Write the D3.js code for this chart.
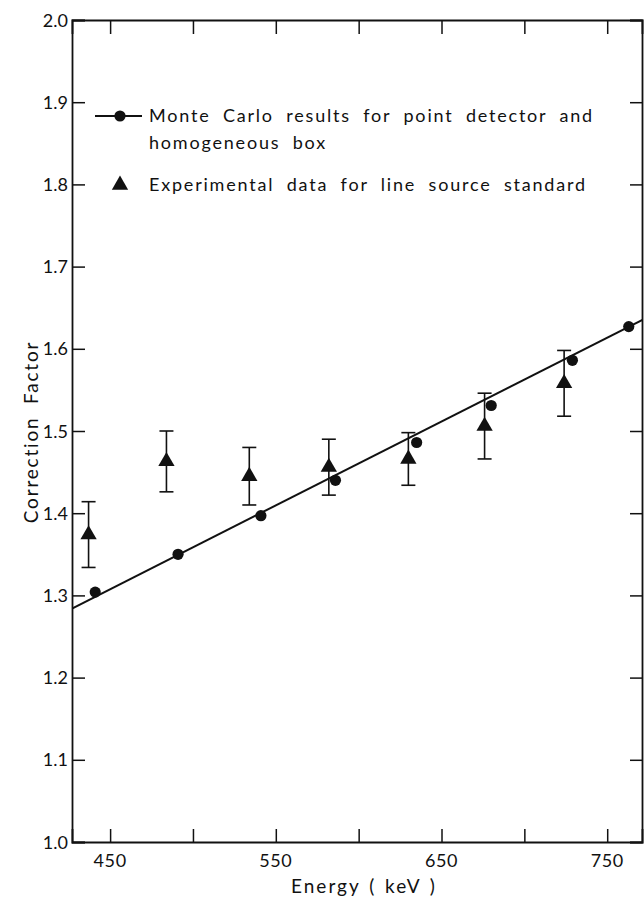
<!DOCTYPE html>
<html>
<head>
<meta charset="utf-8">
<script src="https://cdn.jsdelivr.net/npm/d3@7"></script>
<style>
  html, body { margin: 0; padding: 0; background: #fff; }
  svg text { font-family: Lato, "DejaVu Sans", sans-serif; fill: #111; }
</style>
</head>
<body>
<svg id="chart" width="644" height="901"></svg>
<script>
// Monte Carlo correction factors (point detector, homogeneous box)
const mcEnergy = [441, 491, 541, 586, 635, 680, 729, 763];
const mcFactor = [1.304, 1.350, 1.397, 1.440, 1.486, 1.531, 1.586, 1.627];

// Experimental correction factors (line source standard) with their uncertainties
const expEnergy = [437, 484, 534, 582, 630, 676, 724];
const expFactor = [1.374, 1.463, 1.445, 1.456, 1.466, 1.506, 1.558];
const expError  = [0.040, 0.037, 0.035, 0.034, 0.032, 0.040, 0.040];

// Straight line through the Monte Carlo results
const fitEnergy = [427, 772];
const fitFactor = [1.284, 1.636];

// Axis ticks
const xTickValues = [450, 500, 550, 600, 650, 700, 750];
const xTickLabels = ["450", "", "550", "", "650", "", "750"];
const yTickValues = [1.0, 1.1, 1.2, 1.3, 1.4, 1.5, 1.6, 1.7, 1.8, 1.9, 2.0];
const yTickLabels = ["1.0", "1.1", "1.2", "1.3", "1.4", "1.5", "1.6", "1.7", "1.8", "1.9", "2.0"];

const legendLabels = [
  ["Monte Carlo results for point detector and", "homogeneous box"],
  ["Experimental data for line source standard"]
];

const svg = d3.select("#chart");
const frameL = 72, frameR = 642, frameT = 20, frameB = 842;

const x = d3.scaleLinear().domain([427, 771]).range([frameL, frameR]);
const y = d3.scaleLinear().domain([1.0, 2.0]).range([frameB, frameT]);

const ink = "#111";

// Frame with inward ticks on all four sides
const xAxisB = d3.axisBottom(x).tickValues(xTickValues).tickSize(-13).tickFormat("");
const xAxisT = d3.axisTop(x).tickValues(xTickValues).tickSize(-14).tickFormat("");
const yAxisL = d3.axisLeft(y).tickValues(yTickValues).tickSize(-13).tickFormat("");
const yAxisR = d3.axisRight(y).tickValues(yTickValues).tickSize(-12).tickFormat("");

function styleAxis(g) {
  g.selectAll("path.domain").attr("stroke", ink).attr("stroke-width", 1.8);
  g.selectAll(".tick line").attr("stroke", ink).attr("stroke-width", 1.5);
}
svg.append("g").attr("transform", `translate(0,${frameB})`).call(xAxisB).call(styleAxis);
svg.append("g").attr("transform", `translate(0,${frameT})`).call(xAxisT).call(styleAxis);
svg.append("g").attr("transform", `translate(${frameL},0)`).call(yAxisL).call(styleAxis);
svg.append("g").attr("transform", `translate(${frameR},0)`).call(yAxisR).call(styleAxis);

// Tick labels
svg.append("g").selectAll("text").data(xTickValues).join("text")
  .attr("x", d => x(d)).attr("y", frameB + 25)
  .attr("text-anchor", "middle").attr("font-size", 18)
  .attr("letter-spacing", 0.6)
  .text((d, i) => xTickLabels[i]);

svg.append("g").selectAll("text").data(yTickValues).join("text")
  .attr("x", frameL - 4).attr("y", d => y(d) + 6.5)
  .attr("text-anchor", "end").attr("font-size", 18)
  .text((d, i) => yTickLabels[i]);

// Axis titles
svg.append("text")
  .attr("x", 364).attr("y", 893)
  .attr("text-anchor", "middle").attr("font-size", 19)
  .attr("letter-spacing", 2).attr("word-spacing", 2)
  .text("Energy ( keV )");

svg.append("text")
  .attr("transform", `translate(38,432) rotate(-90)`)
  .attr("text-anchor", "middle").attr("font-size", 19)
  .attr("letter-spacing", 1.8).attr("word-spacing", 6)
  .text("Correction Factor");

// Plot contents are clipped to the frame
svg.append("clipPath").attr("id", "plot-clip")
  .append("rect").attr("x", frameL).attr("y", frameT)
  .attr("width", frameR - frameL).attr("height", frameB - frameT);
const plot = svg.append("g").attr("clip-path", "url(#plot-clip)");

// Fitted line
const line = d3.line().x(d => x(d[0])).y(d => y(d[1]));
plot.append("path")
  .datum(d3.zip(fitEnergy, fitFactor))
  .attr("d", line)
  .attr("fill", "none").attr("stroke", ink).attr("stroke-width", 2);

// Monte Carlo points
plot.append("g").selectAll("circle").data(d3.zip(mcEnergy, mcFactor)).join("circle")
  .attr("cx", d => x(d[0])).attr("cy", d => y(d[1])).attr("r", 5.6)
  .attr("fill", ink);

// Experimental points with error bars
const expData = expEnergy.map((e, i) => ({ e, v: expFactor[i], err: expError[i] }));
const capHalf = 7;
const eb = plot.append("g").attr("stroke", ink).attr("stroke-width", 1.6);
eb.selectAll("line.bar").data(expData).join("line").attr("class", "bar")
  .attr("x1", d => x(d.e)).attr("x2", d => x(d.e))
  .attr("y1", d => y(d.v + d.err)).attr("y2", d => y(d.v - d.err));
eb.selectAll("line.capTop").data(expData).join("line").attr("class", "capTop")
  .attr("x1", d => x(d.e) - capHalf).attr("x2", d => x(d.e) + capHalf)
  .attr("y1", d => y(d.v + d.err)).attr("y2", d => y(d.v + d.err));
eb.selectAll("line.capBot").data(expData).join("line").attr("class", "capBot")
  .attr("x1", d => x(d.e) - capHalf).attr("x2", d => x(d.e) + capHalf)
  .attr("y1", d => y(d.v - d.err)).attr("y2", d => y(d.v - d.err));

const tri = d3.symbol().type(d3.symbolTriangle).size(115);
plot.append("g").selectAll("path").data(expData).join("path")
  .attr("transform", d => `translate(${x(d.e)},${y(d.v)})`)
  .attr("d", tri).attr("fill", ink);

// Legend
const lg = svg.append("g");
const textX = 149;
lg.append("line").attr("x1", 95).attr("x2", 142).attr("y1", 116).attr("y2", 116)
  .attr("stroke", ink).attr("stroke-width", 2);
lg.append("circle").attr("cx", 120).attr("cy", 116).attr("r", 5.6).attr("fill", ink);
lg.append("path").attr("transform", "translate(120,185)").attr("d", tri).attr("fill", ink);

const legendRows = [
  { text: legendLabels[0][0], y: 122 },
  { text: legendLabels[0][1], y: 149 },
  { text: legendLabels[1][0], y: 191 }
];
lg.selectAll("text").data(legendRows).join("text")
  .attr("x", textX).attr("y", d => d.y)
  .attr("font-size", 18).attr("letter-spacing", 1.8).attr("word-spacing", 6)
  .text(d => d.text);
</script>
</body>
</html>
